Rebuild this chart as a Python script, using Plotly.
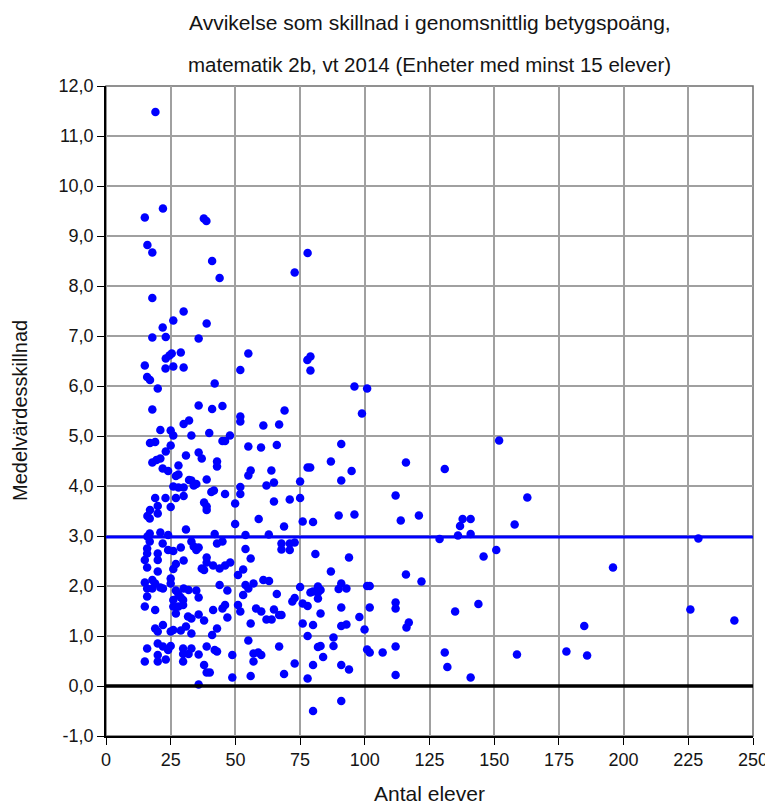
import plotly.graph_objects as go

# Antal elever / medelvärdesskillnad
antal = [
    19.1, 22.0, 15.0, 37.8, 38.8, 16.0, 17.9, 41.0, 43.9, 72.9, 77.9, 79.0, 77.8, 79.0,
    96.0, 100.9, 17.9, 30.0, 26.0, 21.9, 38.9, 17.9, 23.1, 35.8, 25.4, 24.5, 28.9, 23.1,
    55.0, 15.0, 23.0, 26.0, 30.0, 51.9, 15.9, 17.0, 20.0, 42.0, 17.9, 35.8, 41.0, 45.0,
    69.0, 51.9, 51.9, 32.1, 30.0, 60.8, 66.9, 21.0, 25.0, 26.0, 33.0, 39.9, 47.9, 17.0,
    19.0, 25.0, 45.0, 46.0, 55.0, 59.9, 66.0, 23.1, 30.9, 35.8, 37.0, 17.9, 19.5, 21.0,
    42.9, 42.9, 28.0, 21.9, 24.0, 28.0, 27.0, 55.9, 55.0, 63.9, 38.9, 33.0, 32.1, 34.9,
    33.9, 26.0, 28.0, 30.0, 62.0, 64.9, 75.0, 41.7, 40.7, 46.0, 51.9, 51.9, 49.9, 19.0,
    23.0, 27.0, 30.0, 37.9, 38.9, 20.0, 25.0, 17.0, 64.9, 71.0, 75.0,
    38.9, 20.0, 16.0, 16.9, 49.9, 59.0, 68.8, 30.9, 16.9, 16.0, 21.0, 24.0, 42.0, 53.9,
    62.9, 16.9, 15.9, 15.9, 21.9, 24.0, 26.0, 28.9, 33.0, 33.9, 34.9, 35.8, 42.9, 45.0,
    53.9, 67.8, 67.8, 71.0, 71.0, 72.9, 15.0, 15.9, 20.0, 20.0, 30.0, 27.0, 26.0, 38.9,
    38.9, 37.0, 37.9, 41.4, 43.9, 46.0, 48.0, 55.9, 53.0, 51.0, 20.0, 15.0, 15.9, 15.9,
    17.9, 19.0, 17.9, 21.0, 22.0, 25.0, 25.0, 30.0, 31.9, 27.0, 28.0, 28.9, 29.8, 34.9,
    35.8, 43.9, 46.9, 53.9, 55.0, 57.0, 60.8, 63.0, 53.0, 66.0, 75.0, 72.9, 72.0, 15.0,
    19.0, 26.0, 26.0, 27.0, 28.0, 29.8, 31.7, 33.0, 35.8, 37.9, 41.4, 45.0, 46.0, 46.9,
    51.0, 51.9, 58.0, 60.0, 62.0, 64.0, 64.9, 66.9, 67.8, 55.9, 19.0, 20.0, 22.0, 25.0,
    26.0, 28.9, 30.9, 33.0, 42.9, 41.0, 20.0, 22.0, 24.0, 25.0, 15.9, 29.8, 33.0, 38.9,
    42.0, 42.9, 55.0, 66.9, 20.0, 20.0, 23.1, 15.0, 29.8, 29.8, 31.9, 35.8, 48.8, 57.0,
    58.8, 60.0, 57.0, 72.9, 37.9, 38.9, 40.1, 48.8, 55.9, 68.8, 35.8,
    98.9, 90.9, 151.9, 86.9, 77.9, 78.9, 94.9, 115.9, 130.9, 90.9, 111.9, 162.8, 76.0,
    80.0, 89.9, 96.0, 113.9, 120.9, 137.8, 140.9, 136.8, 157.9, 128.9, 136.0, 140.9,
    80.9, 93.9, 145.9, 150.8, 86.9, 115.9, 121.9, 81.9, 82.9, 81.9, 79.0, 80.0, 81.9,
    89.9, 90.9, 92.9, 100.9, 101.9, 76.0, 77.9, 90.9, 101.9, 111.9, 111.9, 143.9, 134.9,
    82.9, 97.9, 76.0, 80.0, 90.9, 92.9, 99.9, 117.0, 116.1, 77.9, 87.9, 81.9, 82.9,
    87.9, 100.9, 101.9, 106.9, 111.9, 130.9, 158.8, 83.9, 80.0, 90.9, 93.9, 131.9,
    77.9, 111.9, 140.9, 90.9, 80.0,
    228.9, 195.9, 225.8, 242.8, 184.8, 177.9, 185.9,
]
skillnad = [
    11.48, 9.55, 9.37, 9.35, 9.30, 8.82, 8.67, 8.50, 8.16, 8.27, 8.66, 6.59, 6.52, 6.31,
    5.99, 5.95, 7.76, 7.49, 7.31, 7.17, 7.25, 6.97, 6.98, 6.95, 6.65, 6.61, 6.67, 6.55,
    6.65, 6.41, 6.35, 6.39, 6.37, 6.32, 6.18, 6.12, 5.95, 6.05, 5.53, 5.61, 5.54, 5.60,
    5.51, 5.39, 5.29, 5.31, 5.24, 5.21, 5.23, 5.12, 5.11, 5.01, 5.01, 5.06, 5.01, 4.86,
    4.88, 4.81, 4.90, 4.90, 4.79, 4.77, 4.82, 4.69, 4.61, 4.67, 4.55, 4.47, 4.52, 4.55,
    4.49, 4.39, 4.41, 4.35, 4.30, 4.23, 4.20, 4.31, 4.21, 4.31, 4.13, 4.11, 4.12, 4.04,
    4.01, 3.99, 3.97, 3.97, 4.01, 4.07, 4.09, 3.91, 3.88, 3.84, 3.98, 3.84, 3.65, 3.76,
    3.76, 3.76, 3.80, 3.67, 3.59, 3.60, 3.58, 3.52, 3.69, 3.73, 3.76,
    3.52, 3.45, 3.40, 3.35, 3.24, 3.34, 3.19, 3.13, 3.05, 2.99, 3.07, 3.02, 3.04, 3.02,
    3.03, 2.89, 2.75, 2.65, 2.85, 2.72, 2.70, 2.77, 2.89, 2.79, 2.72, 2.77, 2.85, 2.89,
    2.74, 2.85, 2.73, 2.85, 2.72, 2.87, 2.52, 2.37, 2.65, 2.52, 2.51, 2.44, 2.34, 2.57,
    2.47, 2.35, 2.32, 2.41, 2.35, 2.41, 2.47, 2.55, 2.33, 2.22, 2.29, 2.07, 1.95, 1.79,
    2.12, 2.05, 1.95, 1.97, 1.95, 2.15, 2.05, 1.95, 1.92, 1.91, 1.83, 1.77, 1.72, 1.91,
    1.77, 2.02, 1.91, 2.02, 1.95, 2.05, 2.12, 2.10, 1.82, 1.84, 1.98, 1.76, 1.69, 1.59,
    1.52, 1.72, 1.59, 1.45, 1.59, 1.62, 1.39, 1.35, 1.43, 1.31, 1.52, 1.55, 1.62, 1.37,
    1.62, 1.49, 1.55, 1.49, 1.33, 1.33, 1.53, 1.42, 1.42, 1.25, 1.15, 1.09, 1.22, 1.09,
    1.12, 1.11, 1.19, 1.05, 1.15, 1.02, 0.85, 0.79, 0.72, 0.80, 0.75, 0.75, 0.75, 0.79,
    0.72, 0.69, 0.91, 0.79, 0.62, 0.49, 0.53, 0.49, 0.64, 0.49, 0.64, 0.63, 0.62, 0.65,
    0.67, 0.62, 0.49, 0.45, 0.42, 0.27, 0.27, 0.17, 0.20, 0.24, 0.03,
    5.45, 4.84, 4.91, 4.49, 4.37, 4.37, 4.30, 4.47, 4.34, 4.11, 3.81, 3.77, 3.29,
    3.28, 3.41, 3.43, 3.31, 3.41, 3.34, 3.34, 3.20, 3.23, 2.94, 3.01, 3.04,
    2.64, 2.57, 2.59, 2.72, 2.29, 2.23, 2.09, 1.99, 1.92, 1.87, 1.87, 1.89, 1.75,
    1.94, 2.05, 1.95, 2.00, 2.00, 1.65, 1.60, 1.57, 1.57, 1.67, 1.55, 1.64, 1.49,
    1.45, 1.38, 1.25, 1.22, 1.20, 1.23, 1.13, 1.27, 1.17, 1.00, 0.97, 0.78, 0.80,
    0.80, 0.73, 0.67, 0.67, 0.79, 0.67, 0.63, 0.58, 0.42, 0.42, 0.33, 0.38,
    0.15, 0.22, 0.17, -0.30, -0.50,
    2.95, 2.37, 1.53, 1.31, 1.20, 0.69, 0.61,
]
medel = 2.98

x_ticks = list(range(0, 251, 25))
y_ticks = list(range(-1, 13))
y_ticktext = [f"{v:.1f}".replace(".", ",") for v in y_ticks]

FONT = "Liberation Sans, Arial, sans-serif"
GRID = "rgb(160,160,160)"
TEXT = "rgb(20,20,20)"

fig = go.Figure()

fig.add_trace(go.Scatter(
    x=antal, y=skillnad, mode="markers",
    marker=dict(color="rgb(0,0,255)", size=8.5, line=dict(width=0)),
    showlegend=False, cliponaxis=False,
))

# plot frame behind the data
fig.add_shape(
    type="rect", xref="paper", yref="paper", x0=0, x1=1, y0=0, y1=1,
    line=dict(color="rgb(110,110,110)", width=1.5), layer="below",
)
fig.add_hline(y=medel, line=dict(color="rgb(0,0,255)", width=3))
fig.add_hline(y=0, line=dict(color="black", width=3.5))

fig.add_annotation(
    text="Avvikelse som skillnad i genomsnittlig betygspoäng,",
    xref="paper", yref="paper", x=0.5, y=1.0, yanchor="middle", yshift=64,
    showarrow=False, font=dict(family=FONT, size=21, color=TEXT),
)
fig.add_annotation(
    text="matematik 2b, vt 2014 (Enheter med minst 15 elever)",
    xref="paper", yref="paper", x=0.5, y=1.0, yanchor="middle", yshift=22,
    showarrow=False, font=dict(family=FONT, size=20.5, color=TEXT),
)
fig.add_annotation(
    text="Antal elever",
    xref="paper", yref="paper", x=0.5, y=0.0, yanchor="middle", yshift=-57,
    showarrow=False, font=dict(family=FONT, size=21, color=TEXT),
)
fig.add_annotation(
    text="Medelvärdesskillnad", textangle=-90,
    xref="paper", yref="paper", x=0.0, y=0.5, xanchor="center", xshift=-86,
    showarrow=False, font=dict(family=FONT, size=20, color=TEXT),
)

fig.update_layout(
    width=773, height=806,
    margin=dict(l=98, r=28, t=78, b=78),
    paper_bgcolor="white",
    plot_bgcolor="white",
    font=dict(family=FONT, size=18, color=TEXT),
    xaxis=dict(
        range=[0, 250], tickvals=x_ticks,
        showgrid=True, gridcolor=GRID, gridwidth=2,
        showline=True, linecolor="black", linewidth=1.5,
        ticks="outside", ticklen=7, tickcolor="black",
        zeroline=False,
    ),
    yaxis=dict(
        range=[-1, 12], tickvals=y_ticks, ticktext=y_ticktext,
        showgrid=True, gridcolor=GRID, gridwidth=2,
        showline=True, linecolor="black", linewidth=1.5,
        ticks="outside", ticklen=7, tickcolor="black",
        zeroline=False,
    ),
)

fig.write_html("out.html")
